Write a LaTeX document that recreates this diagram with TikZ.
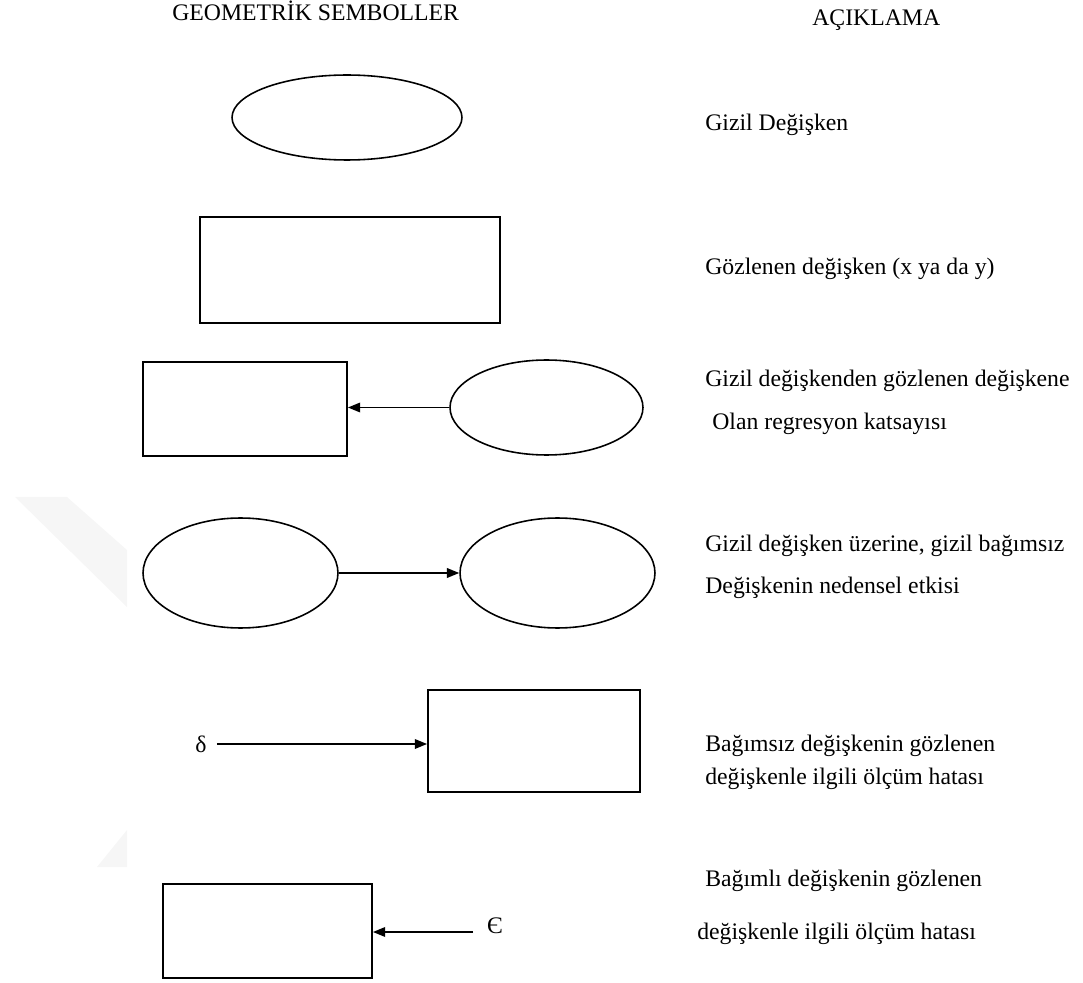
\documentclass[tikz,border=0pt]{standalone}
\usepackage{fontspec}
\setmainfont{Liberation Serif}
\usepackage{tikz}
\usetikzlibrary{arrows.meta,positioning,calc,shapes.geometric}

\begin{document}
\begin{tikzpicture}[
  x=0.02cm,y=-0.02cm,
  font=\fontsize{13.5pt}{16pt}\selectfont,
  latent/.style={draw,ellipse,line width=0.9pt,inner sep=0pt},
  observed/.style={draw,rectangle,line width=1.1pt,inner sep=0pt},
  txt/.style={anchor=base west,inner sep=0pt},
  arr/.style={-{Triangle[length=7pt,width=5.5pt]},line width=0.9pt}
]
  \useasboundingbox (0,0) rectangle (1083,983);
  % faint watermark on the left
  \fill[gray!7] (15,497) -- (67,497) -- (127,550) -- (127,607) -- cycle;
  \fill[gray!7] (97,867) -- (127,830) -- (127,867) -- cycle;

  % column heads
  \node[txt] (hsym) at (172,21) {GEOMETRİK SEMBOLLER};
  \node[txt] (hdesc) at (812,26) {AÇIKLAMA};

  % latent variable
  \node[latent,minimum width=4.6cm,minimum height=1.7cm] (lat) at (347,117.5) {};
  \node[txt] (tlat) at (705,131) {Gizil Değişken};

  % observed variable
  \node[observed,minimum width=6cm,minimum height=2.12cm] (obs) at (350,270) {};
  \node[txt] (tobs) at (705,275) {Gözlenen değişken (x ya da y)};

  % loading
  \node[observed,minimum width=4.08cm,minimum height=1.88cm] (loadobs) at (245,409) {};
  \node[latent,minimum width=3.86cm,minimum height=1.9cm] (loadlat) at (546.5,407.5) {};
  \draw[arr] (loadlat.west) -- (loadlat.west -| loadobs.east);
  \node[txt] (tload) at (705,387) {Gizil değişkenden gözlenen değişkene};
  \node[txt] (tloadb) at (712,430) {Olan regresyon katsayısı};

  % structural path
  \node[latent,minimum width=3.9cm,minimum height=2.2cm] (cause) at (240.5,573) {};
  \node[latent,minimum width=3.9cm,minimum height=2.2cm] (effect) at (557.5,573) {};
  \draw[arr] (cause.east) -- (effect.west);
  \node[txt] (tpath) at (705,551) {Gizil değişken üzerine, gizil bağımsız};
  \node[txt] (tpathb) at (705,593) {Değişkenin nedensel etkisi};

  % error of independent indicator
  \node[observed,minimum width=4.24cm,minimum height=2.04cm] (xobs) at (534,741) {};
  \node[inner sep=0pt] (delta) at (201,744) {δ};
  \draw[arr] ($(delta.east)+(10,0)$) -- (delta -| xobs.west);
  \node[txt] (tdelta) at (705,751) {Bağımsız değişkenin gözlenen};
  \node[txt] (tdeltab) at (705,784) {değişkenle ilgili ölçüm hatası};

  % error of dependent indicator
  \node[observed,minimum width=4.18cm,minimum height=1.88cm] (yobs) at (267.5,931) {};
  \node[inner sep=0pt] (eps) at (495,926) {Є};
  \coordinate (epsin) at (473,932);
  \draw[arr] (epsin) -- (epsin -| yobs.east);
  \node[txt] (teps) at (705,886) {Bağımlı değişkenin gözlenen};
  \node[txt] (tepsb) at (697,939) {değişkenle ilgili ölçüm hatası};
\end{tikzpicture}
\end{document}
